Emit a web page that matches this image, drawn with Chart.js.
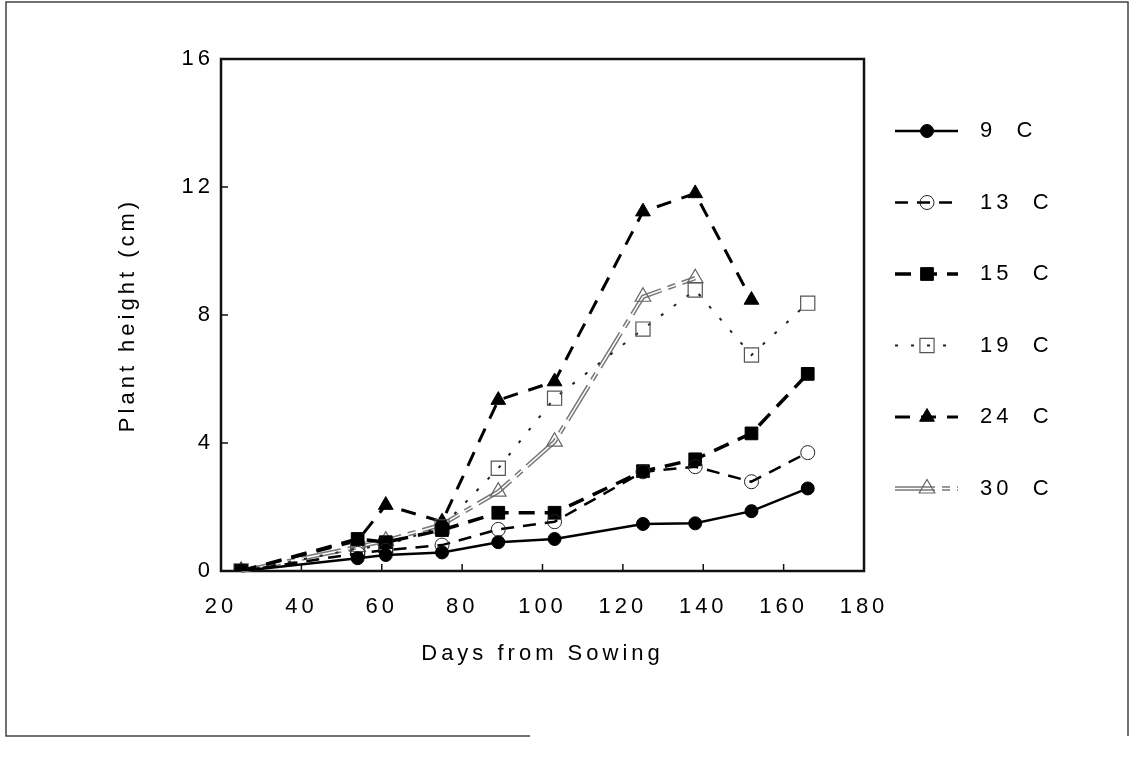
<!DOCTYPE html>
<html>
<head>
<meta charset="utf-8">
<title>Plant height</title>
<script src="https://cdn.jsdelivr.net/npm/chart.js@4/dist/chart.umd.min.js"></script>
<style>
  html, body { margin: 0; padding: 0; background: #fff; }
  canvas { display: block; }
</style>
</head>
<body>
<canvas id="chart" width="1135" height="762"></canvas>
<script>

// sampling days and plant height (cm) at each growing temperature
const days = [25, 54, 61, 75, 89, 103, 125, 138, 152, 166];
const h9  = [0, 0.40, 0.50, 0.58, 0.90, 1.00, 1.47, 1.49, 1.87, 2.58];
const h13 = [0, 0.55, 0.65, 0.81, 1.30, 1.54, 3.10, 3.26, 2.79, 3.70];
const h15 = [0, 1.00, 0.90, 1.28, 1.82, 1.82, 3.12, 3.49, 4.30, 6.16];
const h19 = [0, 0.70, 0.80, 1.38, 3.21, 5.40, 7.56, 8.78, 6.75, 8.37];
const h24 = [0, 0.95, 2.06, 1.54, 5.34, 5.92, 11.23, 11.80, 8.47, null];
const h30 = [0, 0.75, 0.95, 1.45, 2.48, 4.04, 8.57, 9.15, null, null];

const labels = ['9  C', '13  C', '15  C', '19  C', '24  C', '30  C'];
const xTicks = [20, 40, 60, 80, 100, 120, 140, 160, 180];
const yTicks = [0, 4, 8, 12, 16];

const FONT = 'Arial, "Liberation Sans", Helvetica, sans-serif';
const SPACING = '4px';

Chart.defaults.font.family = FONT;
Chart.defaults.font.size = 22;
Chart.defaults.color = '#000';

// pair every height with its day
function pts(values){
  return days.map(function(d, i){ return {x: d, y: values[i]}; });
}

// spaced-out lettering for every text on the canvas
const spacing = {
  id: 'spacing',
  beforeLayout(chart){ chart.ctx.letterSpacing = SPACING; },
  beforeDraw(chart){ chart.ctx.letterSpacing = SPACING; }
};

// plot box, inward ticks and the outer border
const frame = {
  id: 'frame',
  beforeDatasetsDraw(chart){
    const ctx = chart.ctx, a = chart.chartArea;
    const x = chart.scales.x, y = chart.scales.y;
    ctx.save();
    ctx.strokeStyle = '#111';
    ctx.lineWidth = 2.5;
    ctx.strokeRect(a.left, a.top, a.right - a.left, a.bottom - a.top);

    ctx.lineWidth = 1.5;
    ctx.beginPath();
    xTicks.slice(1, -1).forEach(function(v){
      const px = x.getPixelForValue(v);
      ctx.moveTo(px, a.bottom); ctx.lineTo(px, a.bottom - 7);
    });
    yTicks.slice(1, -1).forEach(function(v){
      const py = y.getPixelForValue(v);
      ctx.moveTo(a.left, py); ctx.lineTo(a.left + 7, py);
    });
    ctx.stroke();

    ctx.strokeStyle = '#444';
    ctx.lineWidth = 1.5;
    ctx.beginPath();
    ctx.moveTo(530, 736); ctx.lineTo(6, 736); ctx.lineTo(6, 2);
    ctx.lineTo(1128, 2); ctx.lineTo(1128, 736);
    ctx.stroke();
    ctx.restore();
  }
};

// hollow "double" line: a wide grey stroke under the dataset's own thin one
const doubleLine = {
  id: 'doubleLine',
  beforeDatasetDraw(chart, args){
    const ds = chart.data.datasets[args.index];
    if (!ds.outline) return;
    const line = args.meta.dataset;
    const own = line.options;
    line.options = Object.assign({}, own, {borderColor: ds.outline, borderWidth: own.borderWidth + 3});
    line.draw(chart.ctx, chart.chartArea);
    line.options = own;
  }
};

// key at the right: line sample, marker and label for each series
const key = {
  id: 'key',
  afterDraw(chart){
    const ctx = chart.ctx;
    chart.data.datasets.forEach(function(ds, i){
      const y = 131 + i * 71.5;
      ctx.save();
      ctx.setLineDash(ds.borderDash || []);
      ctx.lineCap = ds.borderCapStyle || 'butt';
      if (ds.outline) {
        ctx.strokeStyle = ds.outline;
        ctx.lineWidth = ds.borderWidth + 3;
        ctx.beginPath(); ctx.moveTo(895, y); ctx.lineTo(958, y); ctx.stroke();
      }
      ctx.strokeStyle = ds.borderColor;
      ctx.lineWidth = ds.borderWidth;
      ctx.beginPath(); ctx.moveTo(895, y); ctx.lineTo(958, y); ctx.stroke();

      ctx.setLineDash([]);
      ctx.fillStyle = ds.pointBackgroundColor;
      ctx.strokeStyle = ds.pointBorderColor;
      ctx.lineWidth = ds.pointBorderWidth;
      Chart.helpers.drawPoint(ctx, {
        pointStyle: ds.pointStyle, radius: ds.pointRadius, borderWidth: ds.pointBorderWidth, rotation: 0
      }, 927, y);

      ctx.letterSpacing = SPACING;
      ctx.font = '22px ' + FONT;
      ctx.fillStyle = '#000';
      ctx.textAlign = 'left';
      ctx.textBaseline = 'middle';
      ctx.fillText(ds.label, 980, y);
      ctx.restore();
    });
  }
};

const clear = 'rgba(255,255,255,0)';

new Chart(document.getElementById('chart'), {
  type: 'line',
  data: {
    datasets: [
      { label: labels[0], data: pts(h9), borderColor: '#000', borderWidth: 2.5,
        pointStyle: 'circle', pointRadius: 6.5, pointBackgroundColor: '#000', pointBorderColor: '#000', pointBorderWidth: 1 },
      { label: labels[1], data: pts(h13), borderColor: '#000', borderWidth: 2.5, borderDash: [13, 9],
        pointStyle: 'circle', pointRadius: 7, pointBackgroundColor: clear, pointBorderColor: '#222', pointBorderWidth: 1 },
      { label: labels[2], data: pts(h15), borderColor: '#000', borderWidth: 3.5, borderDash: [16, 10],
        pointStyle: 'rect', pointRadius: 9, pointBackgroundColor: '#000', pointBorderColor: '#000', pointBorderWidth: 1 },
      { label: labels[3], data: pts(h19), borderColor: '#222', borderWidth: 2, borderDash: [3, 13],
        pointStyle: 'rect', pointRadius: 10, pointBackgroundColor: clear, pointBorderColor: '#555', pointBorderWidth: 1.2 },
      { label: labels[4], data: pts(h24), borderColor: '#000', borderWidth: 3, borderDash: [15, 11],
        pointStyle: 'triangle', pointRadius: 8.5, pointBackgroundColor: '#000', pointBorderColor: '#000', pointBorderWidth: 1 },
      { label: labels[5], data: pts(h30), borderColor: '#fff', outline: '#777', borderWidth: 1.5, borderDash: [40, 7, 8, 7],
        pointStyle: 'triangle', pointRadius: 9, pointBackgroundColor: clear, pointBorderColor: '#666', pointBorderWidth: 1.2 }
    ]
  },
  options: {
    responsive: false,
    devicePixelRatio: 1,
    animation: false,
    layout: { padding: { top: 59, right: 271, left: 0, bottom: 0 } },
    plugins: { legend: { display: false }, tooltip: { enabled: false } },
    elements: { line: { tension: 0 } },
    scales: {
      x: {
        type: 'linear', min: 20, max: 180,
        afterBuildTicks: function(s){ s.ticks = xTicks.map(function(v){ return {value: v}; }); },
        afterFit: function(s){ s.height = 191; },
        grid: { display: false, drawTicks: false },
        border: { display: false },
        ticks: { padding: 23, maxRotation: 0, autoSkip: false },
        title: { display: true, text: 'Days from Sowing', padding: { top: 0, bottom: 95 } }
      },
      y: {
        type: 'linear', min: 0, max: 16,
        afterBuildTicks: function(s){ s.ticks = yTicks.map(function(v){ return {value: v}; }); },
        afterFit: function(s){ s.width = 221; },
        grid: { display: false, drawTicks: false },
        border: { display: false },
        ticks: { padding: 7 },
        title: { display: true, text: 'Plant height (cm)', padding: { top: 115, bottom: 0 } }
      }
    }
  },
  plugins: [spacing, frame, doubleLine, key]
});
</script>
</body>
</html>
